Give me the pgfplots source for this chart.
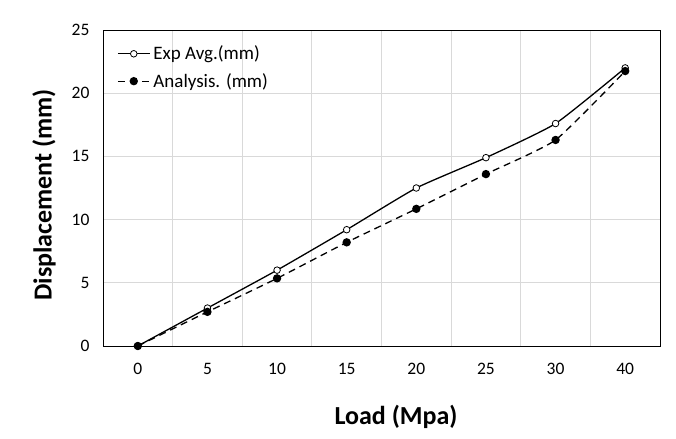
\documentclass[border=0pt]{standalone}
\usepackage{pgfplots}
\pgfplotsset{compat=1.18}
\usepackage{fontspec}
\setmainfont{Carlito}
\definecolor{gridc}{RGB}{217,217,217}
\begin{document}
\begin{tikzpicture}[x=1bp,y=1bp]
\path[use as bounding box] (0,0) rectangle (676,439);
\begin{axis}[
  at={(103bp,93bp)}, anchor=south west,
  scale only axis, width=557bp, height=316bp,
  xmin=-0.5, xmax=7.5, ymin=0, ymax=25,
  xtick={0,...,7},
  xticklabels={0,5,10,15,20,25,30,40},
  minor xtick={0.5,1.5,...,6.5},
  ytick={0,5,...,25},
  xmajorgrids=false, xminorgrids=true, ymajorgrids=true,
  grid style={gridc, line width=0.8bp},
  minor grid style={gridc, line width=0.8bp},
  major tick length=0pt, minor tick length=0pt,
  axis line style={black, line width=0.9bp},
  tick label style={font=\fontsize{17.5bp}{20bp}\selectfont},
  /pgf/number format/assume math mode=true,
  xticklabel style={yshift=-14bp},
  yticklabel style={xshift=-10bp},
  xlabel={\textbf{Load (Mpa)}},
  ylabel={\textbf{Displacement (mm)}},
  label style={font=\fontsize{26bp}{30bp}\selectfont},
  xlabel style={at={(axis description cs:0.526,-0.225)}, anchor=center},
  ylabel style={at={(axis description cs:-0.106,0.478)}, anchor=center},
  legend style={draw=none, fill=none, at={(0.025,0.956)}, anchor=north west,
    font=\fontsize{19bp}{22bp}\selectfont, row sep=8bp, inner sep=0pt,
    nodes={inner xsep=3bp}},
  legend image code/.code={%
    \draw[mark repeat=2,mark phase=2] plot coordinates {(0bp,0bp) (16bp,0bp) (32bp,0bp)};},
  legend cell align=left,
  clip=false,
]
\addplot[black, line width=1.3bp, smooth, tension=0.3, mark=*, mark size=3.3bp,
  mark options={solid, fill=white, draw=black, line width=0.8bp}]
  coordinates {(0,0) (1,3.0) (2,6.0) (3,9.2) (4,12.5) (5,14.9) (6,17.6) (7,22.0)};
\addlegendentry{Exp Avg.(mm)}
\addplot[black, line width=1.3bp, dash pattern=on 7bp off 5bp, smooth, tension=0.3, mark=*, mark size=3.5bp,
  mark options={solid, fill=black, draw=black}]
  coordinates {(0,0) (1,2.7) (2,5.35) (3,8.2) (4,10.85) (5,13.6) (6,16.3) (7,21.75)};
\addlegendentry{Analysis. (mm)}
\end{axis}
\end{tikzpicture}
\end{document}
